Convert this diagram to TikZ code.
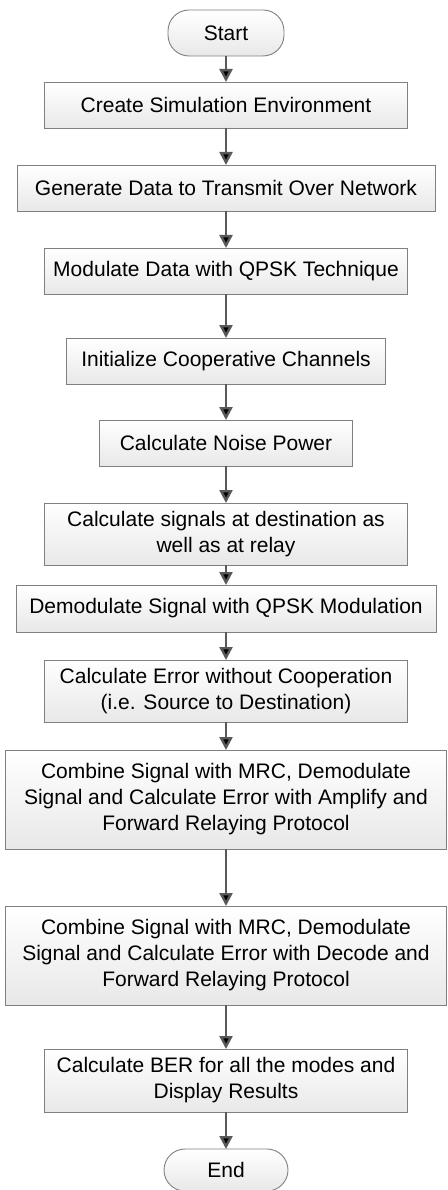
\documentclass[tikz,border=0pt]{standalone}
\usepackage{fontspec}
\setmainfont{Liberation Sans}
\usetikzlibrary{positioning, arrows.meta}

\definecolor{boxline}{HTML}{808080}
\definecolor{arrowgray}{HTML}{595959}

\begin{document}
\begin{tikzpicture}[x=1pt, y=1pt,
% Define custom styles for the flow chart
    stepbox/.style={
        draw=boxline,
        line width=0.9pt,
        outer sep=0pt,
        rectangle,
        top color=white,
        bottom color=black!9,
        align=center,
        font=\fontsize{21}{26}\selectfont,
        minimum width=363pt,
        minimum height=46pt
        },
    termbox/.style={
        stepbox,
        rounded corners=21pt
        },
    flow/.style={
        -{Triangle[width=13pt,length=13pt]},
        line width=2.4pt,
        draw=arrowgray
        }
]
\useasboundingbox (0,0) rectangle (447,-1190);

\node[termbox, minimum width=116pt] (start) at (226,-33) {Start};

\node[stepbox, below=26pt of start] (env) {Create Simulation Environment};
\node[stepbox, minimum width=418pt, below=37pt of env] (data) {Generate Data to Transmit Over Network};
\node[stepbox, below=37pt of data] (mod) {Modulate Data with QPSK Technique};
\node[stepbox, minimum width=319pt, below=44pt of mod] (chan) {Initialize Cooperative Channels};
\node[stepbox, minimum width=253pt, below=36pt of chan] (noise) {Calculate Noise Power};
\node[stepbox, minimum height=62pt, below=37pt of noise] (sig) {Calculate signals at destination as\\well as at relay};
\node[stepbox, minimum width=420pt, minimum height=47pt, below=20pt of sig] (demod) {Demodulate Signal with QPSK Modulation};
\node[stepbox, minimum height=62pt, below=28pt of demod] (err) {Calculate Error without Cooperation\\(i.e. Source to Destination)};

\node[stepbox, minimum width=441pt, minimum height=99pt, below=28pt of err] (af) {Combine Signal with MRC, Demodulate\\Signal and Calculate Error with Amplify and\\Forward Relaying Protocol};
\node[stepbox, minimum width=441pt, minimum height=99pt, below=57pt of af] (df) {Combine Signal with MRC, Demodulate\\Signal and Calculate Error with Decode and\\Forward Relaying Protocol};

\node[stepbox, minimum height=63pt, below=44pt of df] (ber) {Calculate BER for all the modes and\\Display Results};
\node[termbox, minimum width=124pt, minimum height=42pt, below=37pt of ber] (end) {End};

\path[flow] (start) edge (env);
\path[flow] (env) edge (data);
\path[flow] (data) edge (mod);
\path[flow] (mod) edge (chan);
\path[flow] (chan) edge (noise);
\path[flow] (noise) edge (sig);
\path[flow] (sig) edge (demod);
\path[flow] (demod) edge (err);
\path[flow] (err) edge (af);
\path[flow] (af) edge (df);
\path[flow] (df) edge (ber);
\path[flow] (ber) edge (end);

\end{tikzpicture}
\end{document}
